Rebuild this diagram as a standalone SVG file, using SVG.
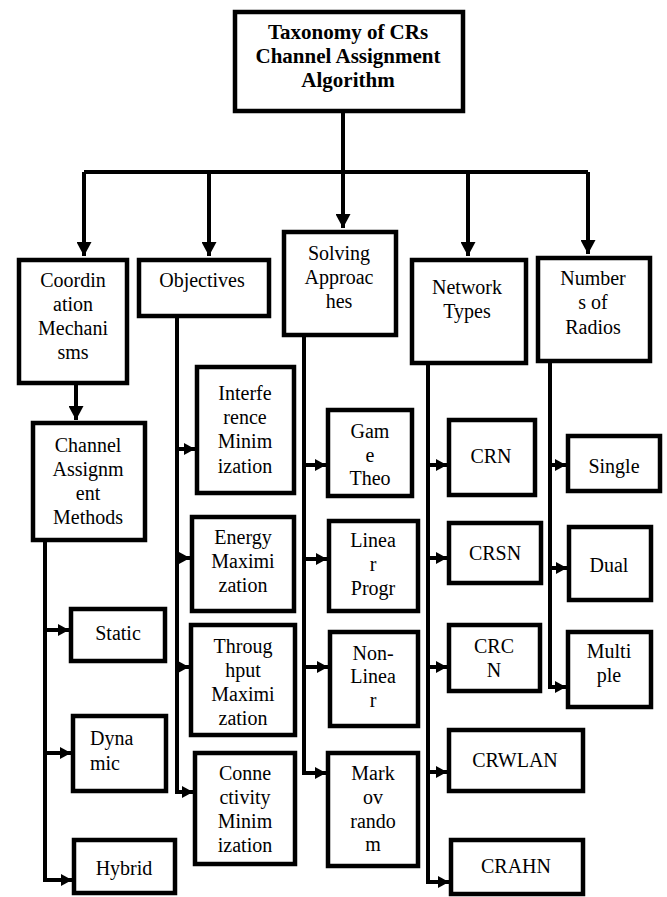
<svg xmlns="http://www.w3.org/2000/svg" width="667" height="897" viewBox="0 0 667 897">
<defs>
<style>
.box{fill:#fff;stroke:#000;stroke-width:4.5}
.c{fill:none;stroke:#000;stroke-width:4}
.big{marker-end:url(#ab)}
.sm{marker-end:url(#as)}
text{font-family:'Liberation Serif','Times New Roman',serif;font-size:20px;fill:#000;text-anchor:middle}
.t{font-weight:bold;font-size:21px}
.l{text-anchor:start}
</style>
<marker id="ab" viewBox="0 0 14 15" refX="14" refY="7.5" markerWidth="14" markerHeight="15" markerUnits="userSpaceOnUse" orient="auto">
<path d="M0,0 L14,7.5 L0,15 z" fill="#000"/>
</marker>
<marker id="as" viewBox="0 0 11 12" refX="11" refY="6" markerWidth="11" markerHeight="12" markerUnits="userSpaceOnUse" orient="auto">
<path d="M0,0 L11,6 L0,12 z" fill="#000"/>
</marker>
</defs>
<rect width="667" height="897" fill="#fff"/>

<g id="connectors">
<path class="c" d="M343,112 V172"/>
<path class="c big" d="M343,170 V228"/>
<path class="c" d="M84,172 H588"/>
<path class="c big" d="M84,172 V256"/>
<path class="c big" d="M209,172 V256"/>
<path class="c big" d="M468,172 V256"/>
<path class="c big" d="M588,172 V254"/>
<path class="c big" d="M76,385 V420"/>

<path class="c" d="M45,542 V880"/>
<path class="c sm" d="M43,630 H69"/>
<path class="c sm" d="M43,753 H71"/>
<path class="c sm" d="M43,880 H72"/>

<path class="c" d="M177,317 V792"/>
<path class="c sm" d="M175,449 H195"/>
<path class="c sm" d="M175,558 H190"/>
<path class="c sm" d="M175,667 H189"/>
<path class="c sm" d="M175,792 H193"/>

<path class="c" d="M304,337 V773"/>
<path class="c sm" d="M302,465 H326"/>
<path class="c sm" d="M302,559 H327"/>
<path class="c sm" d="M302,667 H328"/>
<path class="c sm" d="M302,773 H326"/>

<path class="c" d="M428,365 V882"/>
<path class="c sm" d="M426,465 H447"/>
<path class="c sm" d="M426,558 H447"/>
<path class="c sm" d="M426,667 H447"/>
<path class="c sm" d="M426,772 H447"/>
<path class="c sm" d="M426,882 H449"/>

<path class="c" d="M550,363 V687"/>
<path class="c sm" d="M548,465 H566"/>
<path class="c sm" d="M548,568 H567"/>
<path class="c sm" d="M548,687 H566"/>
</g>

<g id="root">
<rect class="box" x="235" y="12" width="228" height="99"/>
<text class="t" x="348" y="39">Taxonomy of CRs</text>
<text class="t" x="348" y="63">Channel Assignment</text>
<text class="t" x="348" y="87">Algorithm</text>
</g>

<g id="coordination">
<rect class="box" x="19" y="260" width="108" height="123"/>
<text x="73" y="287">Coordin</text>
<text x="73" y="311">ation</text>
<text x="73" y="335">Mechani</text>
<text x="73" y="359">sms</text>
</g>

<g id="objectives">
<rect class="box" x="139" y="260" width="130" height="56"/>
<text x="202" y="287">Objectives</text>
</g>

<g id="solving">
<rect class="box" x="284" y="232" width="112" height="103"/>
<text x="339" y="260">Solving</text>
<text x="339" y="284">Approac</text>
<text x="339" y="308">hes</text>
</g>

<g id="network">
<rect class="box" x="412" y="260" width="114" height="103"/>
<text x="467" y="294">Network</text>
<text x="467" y="318">Types</text>
</g>

<g id="numbers">
<rect class="box" x="538" y="258" width="112" height="103"/>
<text x="593" y="285">Number</text>
<text x="593" y="309">s of</text>
<text x="593" y="334">Radios</text>
</g>

<g id="channel">
<rect class="box" x="33" y="423" width="112" height="117"/>
<text x="88" y="452">Channel</text>
<text x="88" y="476">Assignm</text>
<text x="88" y="500">ent</text>
<text x="88" y="524">Methods</text>
</g>

<g id="static">
<rect class="box" x="71" y="609" width="94" height="52"/>
<text x="118" y="640">Static</text>
</g>

<g id="dynamic">
<rect class="box" x="73" y="716" width="93" height="75"/>
<text class="l" x="90" y="745">Dyna</text>
<text class="l" x="90" y="770">mic</text>
</g>

<g id="hybrid">
<rect class="box" x="74" y="840" width="101" height="53"/>
<text x="124" y="875">Hybrid</text>
</g>

<g id="interference">
<rect class="box" x="197" y="367" width="97" height="126"/>
<text x="245" y="400">Interfe</text>
<text x="245" y="424">rence</text>
<text x="245" y="448">Minim</text>
<text x="245" y="473">ization</text>
</g>

<g id="energy">
<rect class="box" x="192" y="517" width="102" height="94"/>
<text x="243" y="544">Energy</text>
<text x="243" y="568">Maximi</text>
<text x="243" y="592">zation</text>
</g>

<g id="throughput">
<rect class="box" x="191" y="625" width="104" height="110"/>
<text x="243" y="653">Throug</text>
<text x="243" y="677">hput</text>
<text x="243" y="701">Maximi</text>
<text x="243" y="725">zation</text>
</g>

<g id="connectivity">
<rect class="box" x="195" y="753" width="100" height="111"/>
<text x="245" y="780">Conne</text>
<text x="245" y="804">ctivity</text>
<text x="245" y="828">Minim</text>
<text x="245" y="852">ization</text>
</g>

<g id="game">
<rect class="box" x="328" y="410" width="84" height="86"/>
<text x="370" y="438">Gam</text>
<text x="370" y="462">e</text>
<text x="370" y="485">Theo</text>
</g>

<g id="linear">
<rect class="box" x="329" y="521" width="89" height="90"/>
<text x="373" y="547">Linea</text>
<text x="373" y="571">r</text>
<text x="373" y="595">Progr</text>
</g>

<g id="nonlinear">
<rect class="box" x="330" y="632" width="88" height="94"/>
<text x="373" y="660">Non-</text>
<text x="373" y="683">Linea</text>
<text x="373" y="707">r</text>
</g>

<g id="markov">
<rect class="box" x="328" y="753" width="90" height="113"/>
<text x="373" y="780">Mark</text>
<text x="373" y="804">ov</text>
<text x="373" y="828">rando</text>
<text x="373" y="851">m</text>
</g>

<g id="crn">
<rect class="box" x="449" y="420" width="86" height="75"/>
<text x="491" y="463">CRN</text>
</g>

<g id="crsn">
<rect class="box" x="449" y="523" width="92" height="60"/>
<text x="495" y="560">CRSN</text>
</g>

<g id="crcn">
<rect class="box" x="449" y="625" width="91" height="66"/>
<text x="494" y="653">CRC</text>
<text x="494" y="677">N</text>
</g>

<g id="crwlan">
<rect class="box" x="449" y="730" width="134" height="61"/>
<text x="515" y="767">CRWLAN</text>
</g>

<g id="crahn">
<rect class="box" x="451" y="840" width="132" height="54"/>
<text x="516" y="873">CRAHN</text>
</g>

<g id="single">
<rect class="box" x="568" y="436" width="92" height="55"/>
<text x="614" y="473">Single</text>
</g>

<g id="dual">
<rect class="box" x="569" y="527" width="82" height="73"/>
<text x="609" y="572">Dual</text>
</g>

<g id="multiple">
<rect class="box" x="568" y="632" width="83" height="75"/>
<text x="609" y="658">Multi</text>
<text x="609" y="682">ple</text>
</g>
</svg>
